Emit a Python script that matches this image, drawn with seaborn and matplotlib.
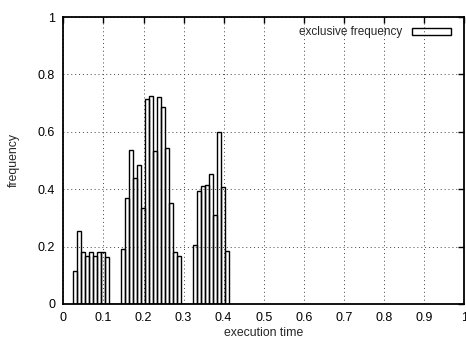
import numpy as np
import pandas as pd
import matplotlib
matplotlib.use("Agg")
import matplotlib.pyplot as plt
import seaborn as sns

# bin centres (execution time) and frequency per bin
cluster1_x = [0.028, 0.038, 0.048, 0.058, 0.068, 0.078, 0.088, 0.098, 0.108]
cluster1_y = [0.116, 0.255, 0.182, 0.167, 0.182, 0.167, 0.182, 0.180, 0.163]

cluster2_x = [0.148, 0.158, 0.168, 0.178, 0.188, 0.198, 0.208, 0.218,
              0.228, 0.238, 0.248, 0.258, 0.268, 0.278, 0.288]
cluster2_y = [0.193, 0.368, 0.535, 0.438, 0.483, 0.336, 0.714, 0.725,
              0.533, 0.720, 0.685, 0.545, 0.351, 0.182, 0.167]

cluster3_x = [0.328, 0.338, 0.348, 0.358, 0.368, 0.378, 0.388, 0.398, 0.408]
cluster3_y = [0.204, 0.395, 0.411, 0.415, 0.452, 0.310, 0.598, 0.406, 0.186]

xticks = [0, 0.1, 0.2, 0.3, 0.4, 0.5, 0.6, 0.7, 0.8, 0.9, 1]
xtick_labels = ["0", "0.1", "0.2", "0.3", "0.4", "0.5", "0.6", "0.7", "0.8", "0.9", "1"]
yticks = [0, 0.2, 0.4, 0.6, 0.8, 1]
ytick_labels = ["0", "0.2", "0.4", "0.6", "0.8", "1"]

df = pd.DataFrame({
    "time": cluster1_x + cluster2_x + cluster3_x,
    "freq": cluster1_y + cluster2_y + cluster3_y,
})

sns.set_style("white")
plt.rcParams["font.family"] = ["Liberation Sans", "DejaVu Sans"]

fig = plt.figure(figsize=(4.66, 3.40), dpi=100)
ax = fig.add_axes([0.136, 0.106, 0.860, 0.844])

sns.histplot(data=df, x="time", weights="freq", binwidth=0.01,
             binrange=(0.023, 0.413), fill=False, element="bars",
             color="black", linewidth=1.0, label="exclusive frequency", ax=ax)

ax.set_xlim(0, 1)
ax.set_ylim(0, 1)
ax.set_xticks(xticks)
ax.set_xticklabels(xtick_labels)
ax.set_yticks(yticks)
ax.set_yticklabels(ytick_labels)

# gnuplot-like dotted grid, inward mirrored ticks
ax.grid(True, color="#444444", linestyle=(0, (1, 3)), linewidth=0.7)
ax.tick_params(direction="in", length=4, width=1, top=True, right=True,
               labelsize=9, colors="black", pad=6)
for s in ax.spines.values():
    s.set_visible(True)
    s.set_color("black")
    s.set_linewidth(1.3)

ax.set_xlabel("execution time", fontsize=8.8, labelpad=2)
ax.set_ylabel("frequency", fontsize=8.8, labelpad=13)

ax.legend(loc="upper right", frameon=False, markerfirst=False, fontsize=8.5,
          handlelength=3.3, handleheight=0.5, borderaxespad=0.3,
          borderpad=0.5, handletextpad=0.8,
          bbox_to_anchor=(0.99, 1.0))

fig.savefig("out.png", dpi=100)
